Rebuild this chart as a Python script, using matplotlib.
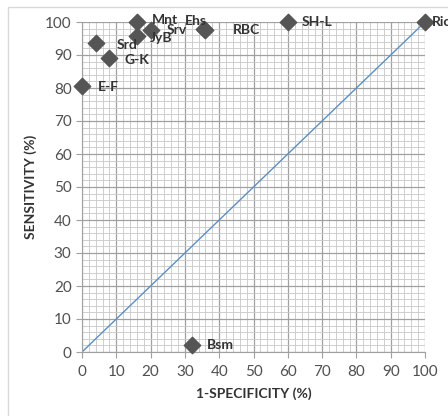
import numpy as np
import matplotlib
matplotlib.use('Agg')
import matplotlib.pyplot as plt
from matplotlib.patches import Rectangle

plt.rcParams['font.family'] = ['Lato', 'DejaVu Sans']

# 1-specificity (%), sensitivity (%) for each test
labels = ['E-F', 'Srd', 'G-K', 'Mnt', 'JyB', 'Srv', 'Ehs', 'RBC', 'SH-L', 'Ric', 'Bsm']
fpr = [0, 4, 8, 16, 16, 20, 35.5, 36, 60, 100, 32]
tpr = [80.5, 93.5, 89, 100, 95.8, 97.6, 98, 97.5, 100, 100, 2]
# label offsets (data units) as placed in the original chart
lab_dx = [4.5, 6.2, 4.5, 4.4, 3.8, 4.8, -5.5, 8.0, 4.0, 2.0, 4.5]
lab_dy = [-0.3, -0.5, -0.5, 0.5, -0.8, 0.0, 2.3, 0.0, 0.0, 0.0, 0.0]

ref_line = [0, 100]

fig = plt.figure(figsize=(4.48, 4.16), dpi=100)
fig.patches.append(Rectangle((8/448, -0.1), 1.2, (416-7)/416 + 0.1, transform=fig.transFigure,
                             fill=False, edgecolor='#d9d9d9', linewidth=1.0))
ax = fig.add_axes([82/448, 64/416, 343/448, 330/416])

ax.set_xticks(np.arange(0, 101, 10))
ax.set_yticks(np.arange(0, 101, 10))
ax.set_xticks(np.arange(0, 101, 2), minor=True)
ax.set_yticks(np.arange(0, 101, 2), minor=True)
ax.grid(which='major', color='#a0a0a0', linewidth=0.9)
ax.grid(which='minor', color='#c8c8c8', linewidth=0.6)
ax.set_axisbelow(True)
ax.tick_params(which='minor', length=0)
ax.tick_params(which='major', length=4, color='#a0a0a0', labelsize=11, labelcolor='#505050', direction='out')
ax.tick_params(axis='x', pad=5)
for s in ['top', 'right']:
    ax.spines[s].set_visible(False)
for s in ['left', 'bottom']:
    ax.spines[s].set_color('#a0a0a0')

ax.plot(ref_line, ref_line, color='#5b8fc0', linewidth=1.0, zorder=2)
ax.scatter(fpr, tpr, marker='D', s=70, color='#555555', edgecolors='#555555', zorder=3, clip_on=False)
for i, lab in enumerate(labels):
    ax.text(fpr[i] + lab_dx[i], tpr[i] + lab_dy[i], lab, fontsize=10, fontweight='bold',
            color='#333333', va='center', ha='left', zorder=4)

ax.set_xlim(0, 100)
ax.set_ylim(0, 100)
ax.set_xlabel('1-SPECIFICITY (%)', fontsize=10, fontweight='bold', color='#333333', labelpad=6)
ax.set_ylabel('SENSITIVITY (%)', fontsize=10, fontweight='bold', color='#333333', labelpad=6)

fig.savefig('out.png', dpi=100)
